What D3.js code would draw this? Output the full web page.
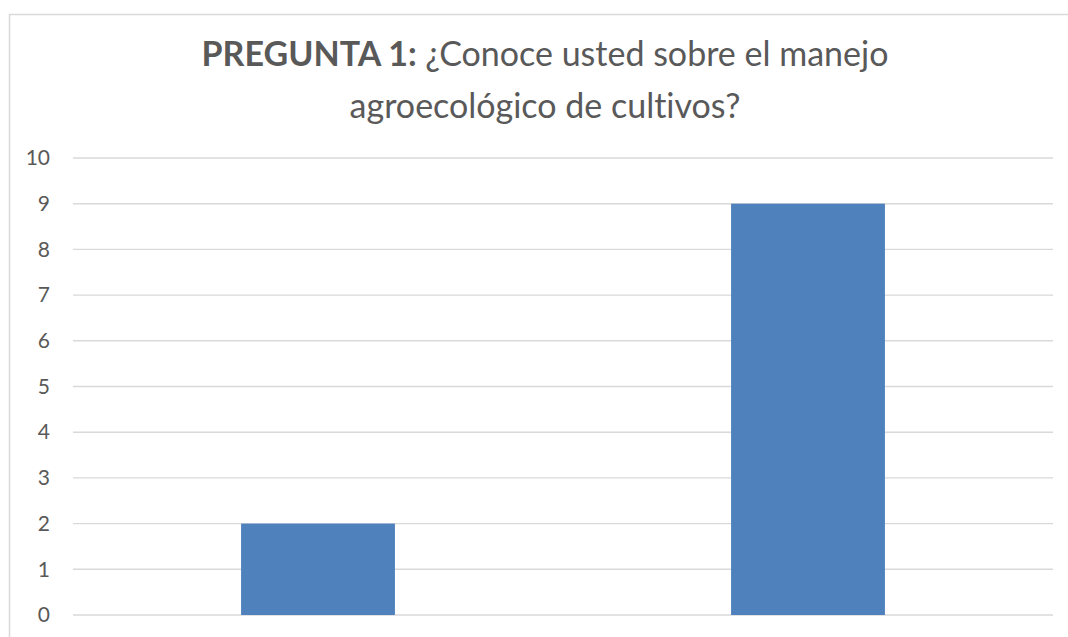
<!DOCTYPE html>
<html>
<head>
<meta charset="utf-8">
<script src="https://cdn.jsdelivr.net/npm/d3@7"></script>
<style>
  html, body { margin: 0; padding: 0; background: #fff; overflow: hidden; }
  text { font-family: Lato, "Open Sans", sans-serif; fill: #595959; font-variant-ligatures: none; }
</style>
</head>
<body>
<div id="chart"></div>
<script>
// data
const categories = ["Sí", "No"];
const counts = [2, 9];
const yTicks = [0, 1, 2, 3, 4, 5, 6, 7, 8, 9, 10];
const titleBold = "PREGUNTA 1: ";
const titleRest = "¿Conoce usted sobre el manejo";
const titleLine2 = "agroecológico de cultivos?";

const width = 1068, height = 637;
const margin = {top: 158, right: 15, bottom: 22, left: 73};

const svg = d3.select("#chart").append("svg")
    .attr("width", width)
    .attr("height", height);

// chart area frame
svg.append("rect")
    .attr("x", 9.5).attr("y", 14.5)
    .attr("width", 1080).attr("height", 660)
    .attr("fill", "#fff")
    .attr("stroke", "#d9d9d9")
    .attr("stroke-width", 1.5);

const x = d3.scaleBand()
    .domain(categories)
    .range([margin.left, width - margin.right])
    .paddingInner(0.686)
    .paddingOuter(0.343);

const y = d3.scaleLinear()
    .domain([0, 10])
    .range([height - margin.bottom, margin.top]);

// gridlines
svg.append("g")
  .selectAll("line")
  .data(yTicks)
  .join("line")
    .attr("x1", margin.left)
    .attr("x2", width - margin.right)
    .attr("y1", d => y(d))
    .attr("y2", d => y(d))
    .attr("stroke", "#d9d9d9")
    .attr("stroke-width", 1.4);

// y axis labels
const yAxis = d3.axisLeft(y).tickValues(yTicks).tickSize(0).tickPadding(23);
svg.append("g")
    .attr("transform", `translate(${margin.left},0)`)
    .call(yAxis)
    .call(g => g.select(".domain").remove())
    .call(g => g.selectAll("text")
        .attr("font-size", 21)
        .style("font-family", "Lato, sans-serif")
        .attr("fill", "#595959"));

// bars
svg.append("g")
  .selectAll("rect")
  .data(counts)
  .join("rect")
    .attr("x", (d, i) => x(categories[i]))
    .attr("width", x.bandwidth())
    .attr("y", d => y(d))
    .attr("height", d => y(0) - y(d))
    .attr("fill", "#4f81bd");

// title
const title = svg.append("text")
    .attr("x", 545)
    .attr("y", 66)
    .attr("text-anchor", "middle")
    .attr("font-size", 34);
title.append("tspan").attr("font-weight", "bold").text(titleBold);
title.append("tspan").text(titleRest);

svg.append("text")
    .attr("x", 545)
    .attr("y", 118)
    .attr("text-anchor", "middle")
    .attr("font-size", 34)
    .text(titleLine2);
</script>
</body>
</html>
